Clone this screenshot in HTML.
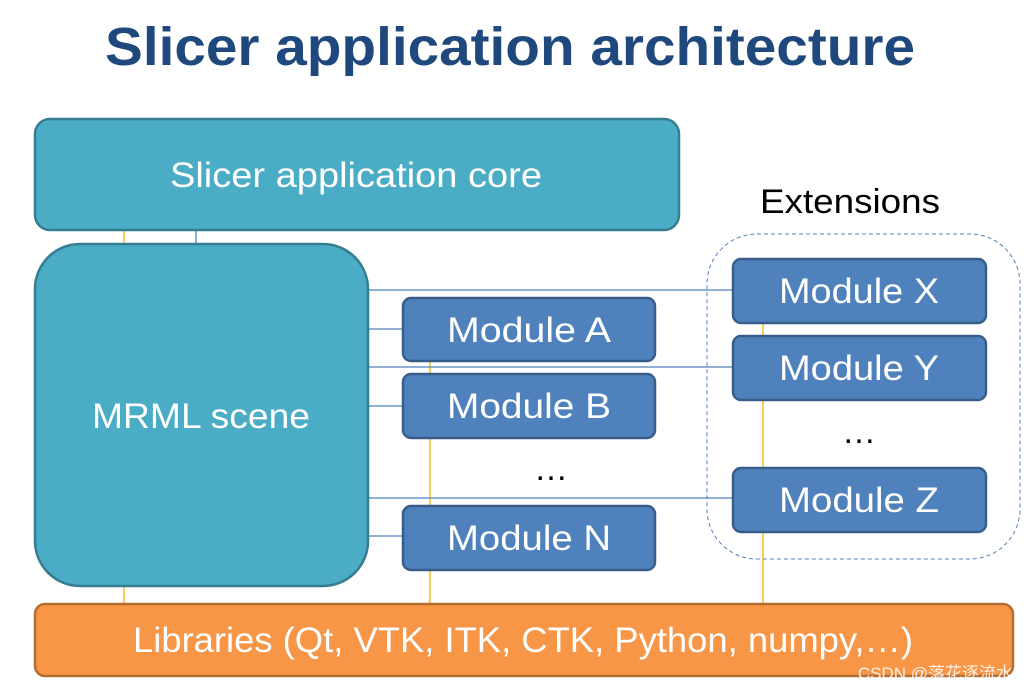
<!DOCTYPE html>
<html><head><meta charset="utf-8"><style>body{margin:0;background:#fff}svg{display:block}</style></head><body>
<svg width="1031" height="692" viewBox="0 0 1031 692" xmlns="http://www.w3.org/2000/svg" font-family="'Liberation Sans', sans-serif">
<text x="510" y="65" text-anchor="middle" font-size="54" font-weight="bold" fill="#1F497D" textLength="810" lengthAdjust="spacingAndGlyphs">Slicer application architecture</text>
<g stroke="#F0B400" stroke-width="1.3">
<line x1="124" y1="230" x2="124" y2="244"/><line x1="124" y1="586" x2="124" y2="604"/>
<line x1="430" y1="361" x2="430" y2="604"/>
<line x1="763" y1="323" x2="763" y2="604"/>
</g>
<g stroke="#4F81BD" stroke-width="1.3">
<line x1="196" y1="230" x2="196" y2="244"/>
<line x1="368" y1="290" x2="733" y2="290"/>
<line x1="368" y1="329" x2="403" y2="329"/>
<line x1="368" y1="367" x2="733" y2="367"/>
<line x1="368" y1="406" x2="403" y2="406"/>
<line x1="368" y1="498" x2="733" y2="498"/>
<line x1="368" y1="536" x2="403" y2="536"/>
</g>
<rect x="707" y="234" width="313" height="325" rx="50" fill="none" stroke="#4F81BD" stroke-width="1" stroke-dasharray="4,3"/>
<rect x="35" y="119" width="644" height="111" rx="15" fill="#4BACC6" stroke="#357D91" stroke-width="2.5"/>
<rect x="35" y="244" width="333" height="342" rx="45" fill="#4BACC6" stroke="#357D91" stroke-width="2.5"/>
<g fill="#4F81BD" stroke="#385D8A" stroke-width="2.5">
<rect x="403" y="298" width="252" height="63" rx="8"/>
<rect x="403" y="374" width="252" height="64" rx="8"/>
<rect x="403" y="506" width="252" height="64" rx="8"/>
<rect x="733" y="259" width="253" height="64" rx="8"/>
<rect x="733" y="336" width="253" height="64" rx="8"/>
<rect x="733" y="468" width="253" height="64" rx="8"/>
</g>
<rect x="35" y="604" width="978" height="72" rx="10" fill="#F79646" stroke="#B66D31" stroke-width="2.5"/>
<g fill="#fff" font-size="35" text-anchor="middle">
<text x="356" y="187" textLength="372" lengthAdjust="spacingAndGlyphs">Slicer application core</text>
<text x="201" y="428" textLength="218" lengthAdjust="spacingAndGlyphs">MRML scene</text>
<text x="529" y="342" textLength="164" lengthAdjust="spacingAndGlyphs">Module A</text>
<text x="529" y="418" textLength="164" lengthAdjust="spacingAndGlyphs">Module B</text>
<text x="529" y="550" textLength="164" lengthAdjust="spacingAndGlyphs">Module N</text>
<text x="859" y="303" textLength="160" lengthAdjust="spacingAndGlyphs">Module X</text>
<text x="859" y="380" textLength="160" lengthAdjust="spacingAndGlyphs">Module Y</text>
<text x="859" y="512" textLength="160" lengthAdjust="spacingAndGlyphs">Module Z</text>
<text x="523" y="652" textLength="780" lengthAdjust="spacingAndGlyphs">Libraries (Qt, VTK, ITK, CTK, Python, numpy,…)</text>
</g>
<g fill="#000" font-size="34" text-anchor="middle">
<text x="850" y="213" textLength="180" lengthAdjust="spacingAndGlyphs">Extensions</text>
<text x="551" y="480">…</text>
<text x="859" y="443">…</text>
</g>
<text x="1013" y="679" text-anchor="end" font-size="17" fill="#ffffff" fill-opacity="0.85" font-family="'Liberation Sans','Noto Sans CJK SC',sans-serif">CSDN @落花逐流水</text>
</svg>
</body></html>
